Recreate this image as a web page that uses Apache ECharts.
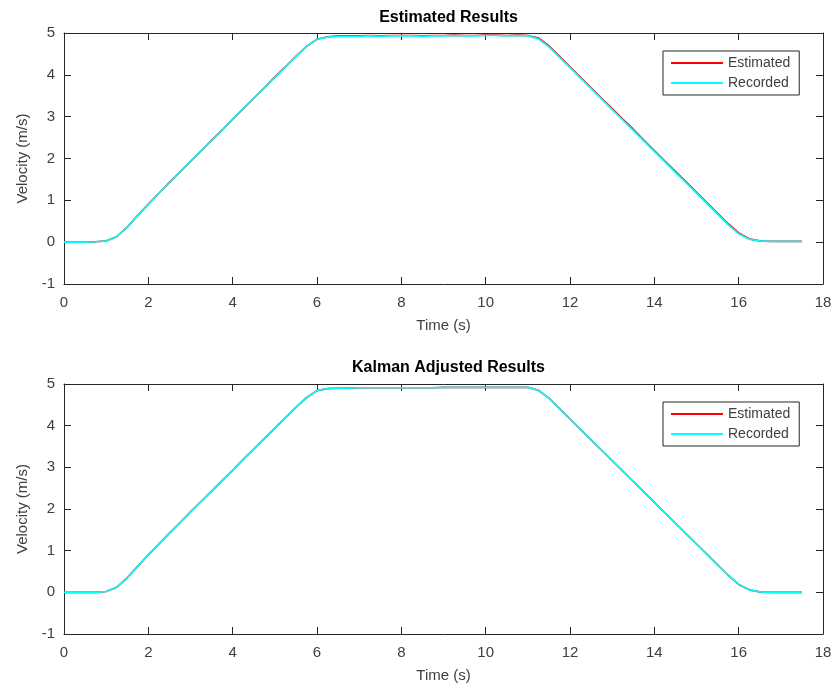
<!DOCTYPE html>
<html>
<head>
<meta charset="utf-8">
<script src="https://cdn.jsdelivr.net/npm/echarts@6/dist/echarts.min.js"></script>
<style>
html,body{margin:0;padding:0;background:#fff;}
#chart{width:837px;height:696px;}
</style>
</head>
<body>
<div id="chart"></div>
<script>
// ---- data ----
const titles = ['Estimated Results', 'Kalman Adjusted Results'];
const seriesNames = ['Estimated', 'Recorded'];
const xTicks = [0, 2, 4, 6, 8, 10, 12, 14, 16, 18];
const yTicks = [-1, 0, 1, 2, 3, 4, 5];

const times = [0,0.25,0.5,0.75,1,1.25,1.5,1.75,2,2.25,2.5,2.75,3,3.25,3.5,3.75,4,4.25,4.5,4.75,5,5.25,5.5,5.75,6,6.25,6.5,6.75,7,7.25,7.5,7.75,8,8.25,8.5,8.75,9,9.25,9.5,9.75,10,10.25,10.5,10.75,11,11.25,11.5,11.75,12,12.25,12.5,12.75,13,13.25,13.5,13.75,14,14.25,14.5,14.75,15,15.25,15.5,15.75,16,16.25,16.5,16.75,17,17.25,17.5];

const recordedTop = [0.00,0.00,0.00,0.01,0.03,0.13,0.36,0.64,0.91,1.17,1.42,1.68,1.93,2.18,2.43,2.68,2.94,3.19,3.44,3.69,3.94,4.19,4.44,4.68,4.85,4.90,4.92,4.92,4.92,4.93,4.92,4.93,4.93,4.93,4.92,4.93,4.93,4.94,4.93,4.93,4.94,4.94,4.93,4.94,4.93,4.86,4.67,4.42,4.17,3.92,3.67,3.42,3.17,2.92,2.67,2.42,2.17,1.92,1.67,1.42,1.17,0.92,0.67,0.42,0.20,0.07,0.03,0.02,0.02,0.02,0.02];
const estimatedTop = [0.00,0.00,0.00,0.01,0.03,0.13,0.36,0.64,0.91,1.17,1.43,1.68,1.93,2.18,2.44,2.68,2.94,3.19,3.44,3.69,3.95,4.19,4.44,4.68,4.85,4.91,4.93,4.93,4.93,4.94,4.93,4.94,4.94,4.94,4.93,4.94,4.94,4.95,4.94,4.94,4.95,4.95,4.94,4.95,4.94,4.88,4.69,4.44,4.19,3.94,3.69,3.44,3.19,2.94,2.70,2.44,2.19,1.94,1.69,1.44,1.19,0.94,0.69,0.44,0.22,0.08,0.03,0.02,0.02,0.02,0.02];

const recordedBottom = [0.00,0.00,0.00,0.00,0.02,0.12,0.35,0.63,0.90,1.16,1.42,1.67,1.93,2.18,2.43,2.68,2.93,3.19,3.44,3.69,3.94,4.19,4.44,4.67,4.84,4.89,4.90,4.90,4.91,4.91,4.91,4.91,4.91,4.91,4.91,4.91,4.92,4.92,4.92,4.92,4.92,4.92,4.92,4.92,4.92,4.85,4.66,4.41,4.16,3.91,3.66,3.41,3.16,2.91,2.66,2.41,2.16,1.91,1.66,1.41,1.16,0.91,0.66,0.41,0.19,0.06,0.01,0.00,0.00,0.00,0.00];
const estimatedBottom = [0.00,0.00,0.00,0.00,0.02,0.12,0.35,0.63,0.90,1.16,1.42,1.67,1.93,2.18,2.43,2.68,2.93,3.19,3.44,3.69,3.94,4.19,4.44,4.67,4.84,4.89,4.90,4.90,4.91,4.91,4.91,4.91,4.91,4.91,4.91,4.91,4.92,4.92,4.92,4.92,4.92,4.92,4.92,4.92,4.92,4.85,4.66,4.41,4.16,3.91,3.66,3.41,3.16,2.91,2.66,2.41,2.16,1.91,1.66,1.41,1.16,0.91,0.66,0.41,0.19,0.06,0.01,0.00,0.00,0.00,0.00];

// ---- build ----
const FONT = "'Liberation Sans', Arial, Helvetica, sans-serif";
const AX = '#262626';
const TXT = '#404040';
const pairs = (vals) => times.map((t, i) => [t, vals[i]]);

const grids = [
  {left: 64, right: 14, top: 33, height: 251},
  {left: 64, right: 14, top: 384, height: 250}
];

function xAx(gi, main) {
  return {
    type: 'value', gridIndex: gi, position: main ? 'bottom' : 'top',
    min: xTicks[0], max: xTicks[xTicks.length - 1], interval: 2,
    name: main ? 'Time (s)' : '', nameLocation: 'middle', nameGap: 34,
    nameTextStyle: {color: TXT, fontSize: 15, fontFamily: FONT},
    axisLine: {show: true, onZero: false, lineStyle: {color: AX, width: 1}},
    axisTick: {show: true, inside: true, length: 7, lineStyle: {color: AX}},
    axisLabel: {show: main, color: TXT, fontSize: 15, fontFamily: FONT, margin: 11},
    splitLine: {show: false}
  };
}
function yAx(gi, main) {
  return {
    type: 'value', gridIndex: gi, position: main ? 'left' : 'right',
    min: yTicks[0], max: yTicks[yTicks.length - 1], interval: 1,
    name: main ? 'Velocity (m/s)' : '', nameLocation: 'middle', nameGap: 32,
    nameTextStyle: {color: TXT, fontSize: 15, fontFamily: FONT},
    axisLine: {show: true, onZero: false, lineStyle: {color: AX, width: 1}},
    axisTick: {show: true, inside: true, length: 7, lineStyle: {color: AX}},
    axisLabel: {show: main, color: TXT, fontSize: 15, fontFamily: FONT, margin: 9},
    splitLine: {show: false}
  };
}

function legend(top) {
  return {
    orient: 'vertical', left: 663, top: top,
    data: seriesNames.map(n => ({name: n, icon: 'rect'})),
    itemWidth: 52, itemHeight: 2, itemGap: 6,
    padding: [5, 9, 5, 8],
    borderColor: AX, borderWidth: 1, backgroundColor: '#fff',
    textStyle: {color: TXT, fontSize: 14, fontFamily: FONT, lineHeight: 14, padding: [0, 0, 0, 0]},
    selectedMode: false
  };
}

function line(name, data, color, xi, yi) {
  return {
    type: 'line', name: name, data: data, xAxisIndex: xi, yAxisIndex: yi,
    showSymbol: false, symbol: 'none', animation: false,
    lineStyle: {color: color, width: 1.7}, itemStyle: {color: color}
  };
}

const option = {
  animation: false,
  backgroundColor: '#fff',
  title: [
    {text: titles[0], left: 443.5, top: 5, textAlign: 'center',
     textStyle: {fontSize: 16, fontWeight: 'bold', color: '#000', fontFamily: FONT}},
    {text: titles[1], left: 443.5, top: 355, textAlign: 'center',
     textStyle: {fontSize: 16, fontWeight: 'bold', color: '#000', fontFamily: FONT}}
  ],
  legend: [legend(51), legend(402)],
  grid: grids,
  xAxis: [xAx(0, true), xAx(0, false), xAx(1, true), xAx(1, false)],
  yAxis: [yAx(0, true), yAx(0, false), yAx(1, true), yAx(1, false)],
  series: [
    line(seriesNames[0], pairs(estimatedTop), '#ff0000', 0, 0),
    line(seriesNames[1], pairs(recordedTop), '#00ffff', 0, 0),
    line(seriesNames[0], pairs(estimatedBottom), '#ff0000', 2, 2),
    line(seriesNames[1], pairs(recordedBottom), '#00ffff', 2, 2)
  ]
};

const chart = echarts.init(document.getElementById('chart'), null, {renderer: 'canvas'});
chart.setOption(option);
</script>
</body>
</html>
